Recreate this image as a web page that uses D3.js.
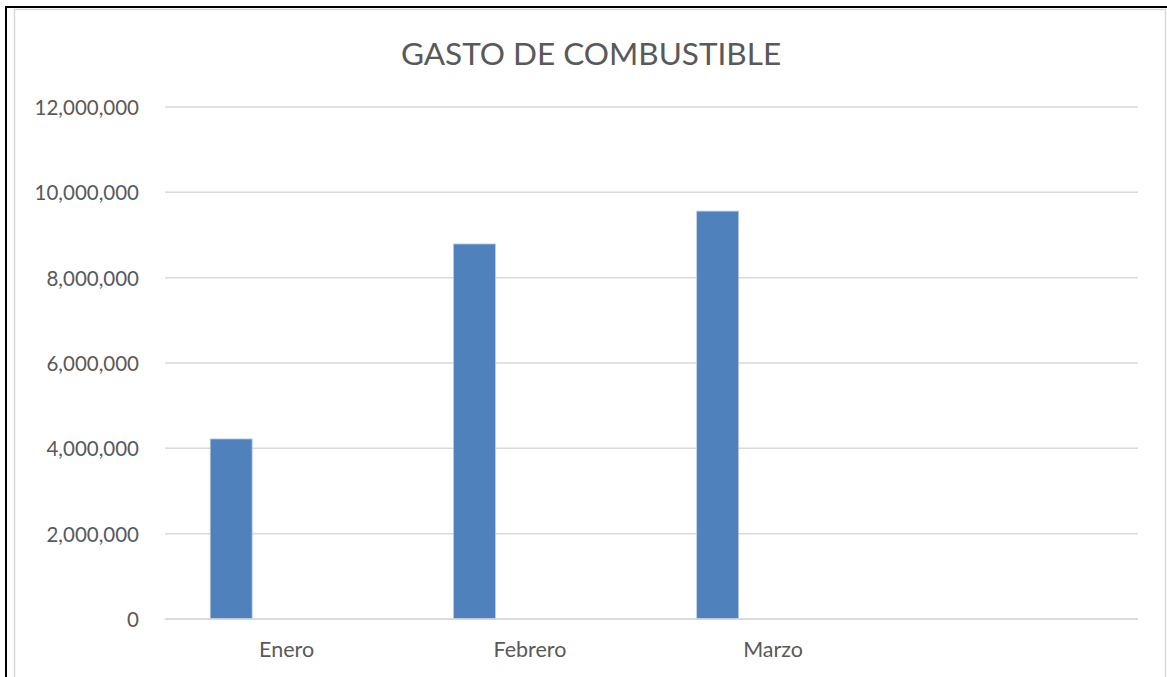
<!DOCTYPE html>
<html>
<head>
<meta charset="utf-8">
<script src="https://cdn.jsdelivr.net/npm/d3@7"></script>
<style>
    body { margin: 0; background: #fff; }
    svg { display: block; font-family: Lato, 'Open Sans', sans-serif; }
</style>
</head>
<body>
<svg id="chart" width="1167" height="677"></svg>
<script>
// datos
var months = ['Enero', 'Febrero', 'Marzo', ''];
var series = ['Gasto', 's2', 's3'];
var gasto = [4220000, 8790000, 9560000, null];
var yTicks = [0, 2000000, 4000000, 6000000, 8000000, 10000000, 12000000];
var title = 'GASTO DE COMBUSTIBLE';

var width = 1167;
var height = 677;
var margin = { top: 107, right: 29, bottom: 58, left: 165 };

var svg = d3.select('#chart');

// marco
svg.append('rect')
    .attr('x', 14.5).attr('y', 9.5)
    .attr('width', 1151).attr('height', 700)
    .attr('fill', '#fff')
    .attr('stroke', '#d9d9d9')
    .attr('stroke-width', 1.5);
svg.append('path')
    .attr('d', 'M6,680 V7 H1167')
    .attr('fill', 'none')
    .attr('stroke', '#000')
    .attr('stroke-width', 2);

var x0 = d3.scaleBand()
    .domain(months)
    .range([margin.left, width - margin.right]);

var x1 = d3.scaleBand()
    .domain(series)
    .range([0, x0.bandwidth()])
    .paddingOuter(1.4)
    .align(0.385);

var y = d3.scaleLinear()
    .domain([0, 12000000])
    .range([height - margin.bottom, margin.top]);

// lineas de cuadricula
svg.append('g')
    .selectAll('line')
    .data(yTicks)
    .enter()
    .append('line')
    .attr('x1', margin.left)
    .attr('x2', width - margin.right)
    .attr('y1', function (d) { return y(d); })
    .attr('y2', function (d) { return y(d); })
    .attr('stroke', '#d9d9d9')
    .attr('stroke-width', 1.5);

// eje y
var yAxis = svg.append('g')
    .attr('transform', `translate(${margin.left - 23},0)`)
    .call(d3.axisLeft(y).tickValues(yTicks).tickFormat(d3.format(',')).tickSize(0));
yAxis.attr('font-family', null);
yAxis.select('.domain').remove();
yAxis.selectAll('text')
    .attr('fill', '#595959')
    .attr('dy', '0.36em')
    .style('font-size', '20.5px');

// barras
svg.append('g')
    .selectAll('rect')
    .data(months.map(function (m, i) { return { month: m, value: gasto[i] }; }).filter(function (d) { return d.value != null; }))
    .enter()
    .append('rect')
    .attr('x', function (d) { return x0(d.month) + x1('Gasto'); })
    .attr('y', function (d) { return y(d.value); })
    .attr('width', x1.bandwidth())
    .attr('height', function (d) { return y(0) - y(d.value); })
    .attr('fill', '#4f81bd')
    .attr('stroke', '#b9cde5')
    .attr('stroke-width', 0.8);

// eje x
var xAxis = svg.append('g')
    .attr('transform', `translate(0,${height - margin.bottom})`)
    .call(d3.axisBottom(x0).tickSize(0).tickPadding(23));
xAxis.attr('font-family', null);
xAxis.select('.domain').remove();
xAxis.selectAll('text')
    .attr('fill', '#595959')
    .style('font-size', '21.5px');

svg.append('line')
    .attr('x1', margin.left)
    .attr('x2', width - margin.right)
    .attr('y1', y(0))
    .attr('y2', y(0))
    .attr('stroke', '#d9d9d9')
    .attr('stroke-width', 1.5);

// titulo
svg.append('text')
    .attr('x', 591)
    .attr('y', 65)
    .attr('text-anchor', 'middle')
    .attr('fill', '#595959')
    .style('font-size', '31.5px')
    .text(title);
</script>
</body>
</html>
